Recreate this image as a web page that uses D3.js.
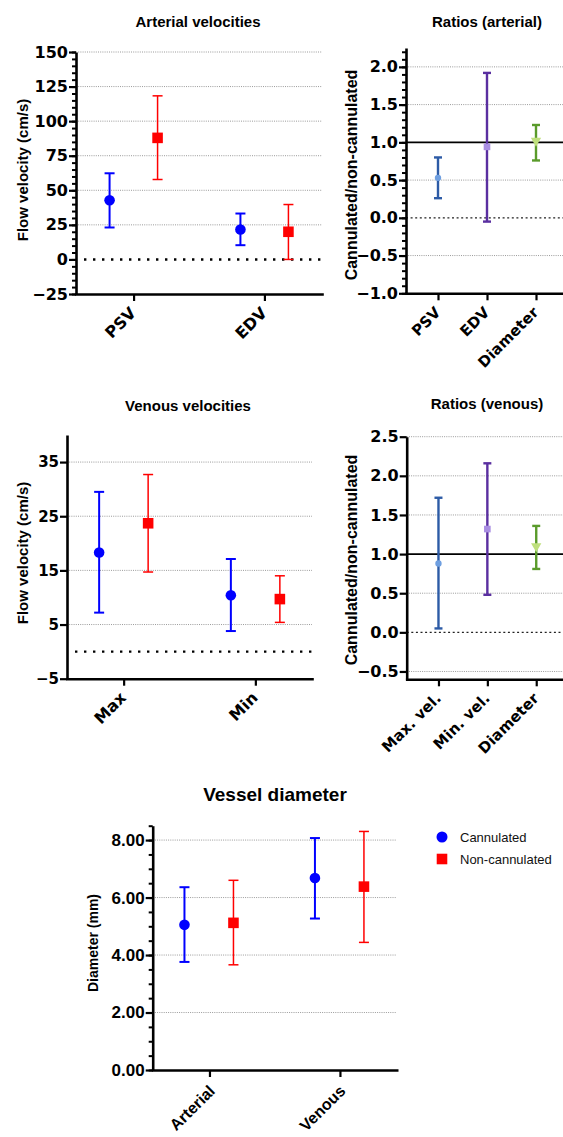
<!DOCTYPE html>
<html>
<head>
<meta charset="utf-8">
<script src="https://cdn.jsdelivr.net/npm/d3@7"></script>
<style>
body { margin: 0; background: #fff; }
svg { display: block; }
text { font-family: "Liberation Sans", Arial, sans-serif; }
</style>
</head>
<body>
<script>
// ---- data ----
var series = ["Cannulated", "Non-cannulated"];

var artCats = ["PSV", "EDV"];
var artCannMean = [42.8, 21.7], artCannLo = [23.1, 10.3], artCannHi = [62.3, 33.2];
var artNonMean = [87.9, 20.0], artNonLo = [57.8, 0.0], artNonHi = [118.3, 39.7];
var artTicks = [-25, 0, 25, 50, 75, 100, 125, 150];

var venCats = ["Max", "Min"];
var venCannMean = [18.3, 10.4], venCannLo = [7.2, 3.8], venCannHi = [29.5, 17.1];
var venNonMean = [23.7, 9.7], venNonLo = [14.7, 5.4], venNonHi = [32.7, 14.0];
var venTicks = [-5, 5, 15, 25, 35];

var ratArtCats = ["PSV", "EDV", "Diameter"];
var ratArtMean = [0.53, 0.94, 1.02], ratArtLo = [0.26, -0.05, 0.76], ratArtHi = [0.80, 1.92, 1.23];
var ratArtTicks = [-1.0, -0.5, 0.0, 0.5, 1.0, 1.5, 2.0];

var ratVenCats = ["Max. vel.", "Min. vel.", "Diameter"];
var ratVenMean = [0.88, 1.32, 1.10], ratVenLo = [0.05, 0.48, 0.81], ratVenHi = [1.72, 2.16, 1.36];
var ratVenTicks = [-0.5, 0.0, 0.5, 1.0, 1.5, 2.0, 2.5];

var diamCats = ["Arterial", "Venous"];
var diamCannMean = [5.05, 6.68], diamCannLo = [3.76, 5.27], diamCannHi = [6.36, 8.07];
var diamNonMean = [5.12, 6.38], diamNonLo = [3.66, 4.44], diamNonHi = [6.60, 8.30];
var diamTicks = [0, 2, 4, 6, 8];

var blue = "#0000ff", red = "#ff0000";
var ratBar = ["#2d5ba6", "#5a2fa0", "#5a9b2b"];
var ratMark = ["#6f9fe0", "#a98ee2", "#bfe07e"];

var svg = d3.select("body").append("svg")
  .attr("width", 563)
  .attr("height", 1137);
svg.append("rect").attr("width", 563).attr("height", 1137).attr("fill", "#fff");

function range(a, b, s) {
  var out = [];
  for (var v = a; v <= b + 1e-9; v += s) out.push(+v.toFixed(4));
  return out;
}

function panel(o) {
  var g = svg.append("g");
  var x = d3.scalePoint().domain(o.cats).range([o.left, o.right]).padding(o.pad);
  var y = d3.scaleLinear().domain(o.yDomain).range([o.bottom, o.top]);

  // grid lines
  g.selectAll(".grid")
    .data(o.grid)
    .enter()
    .append("line")
    .attr("x1", o.left).attr("x2", o.right)
    .attr("y1", function(d){ return y(d); })
    .attr("y2", function(d){ return y(d); })
    .attr("stroke", "#9a9a9a")
    .attr("stroke-width", 1)
    .attr("stroke-dasharray", "1,1.2");

  if (o.zero == "big") {
    g.append("line")
      .attr("x1", o.left + 8).attr("x2", o.right)
      .attr("y1", y(0)).attr("y2", y(0))
      .attr("stroke", "#000").attr("stroke-width", 2.4)
      .attr("stroke-dasharray", "2.4,6.6");
  } else if (o.zero == "small") {
    g.append("line")
      .attr("x1", o.left).attr("x2", o.right)
      .attr("y1", y(0)).attr("y2", y(0))
      .attr("stroke", "#222").attr("stroke-width", 1.3)
      .attr("stroke-dasharray", "2,2.6");
    g.append("line")
      .attr("x1", o.left).attr("x2", o.right)
      .attr("y1", y(1)).attr("y2", y(1))
      .attr("stroke", "#000").attr("stroke-width", 1.8);
  }

  // y axis: minor then major
  if (o.minor) {
    var ym = g.append("g")
      .attr("transform", "translate(" + o.left + ",0)")
      .call(d3.axisLeft(y).tickValues(o.minor).tickSize(4).tickSizeOuter(0).tickFormat(""));
    ym.select(".domain").remove();
    ym.selectAll("line").attr("stroke-width", 2);
  }
  var ya = g.append("g")
    .attr("transform", "translate(" + o.left + ",0)")
    .call(d3.axisLeft(y).tickValues(o.ticks).tickSize(7).tickSizeOuter(0).tickPadding(1).tickFormat(d3.format(o.fmt)));
  ya.select(".domain").attr("stroke-width", 2.6);
  ya.selectAll("line").attr("stroke-width", 2.2);
  ya.selectAll("text")
    .style("font-family", o.tickFamily)
    .style("font-weight", "bold")
    .style("font-size", o.tickSize + "px")
    .attr("fill", "#000");

  // x axis
  var xa = g.append("g")
    .attr("transform", "translate(0," + o.bottom + ")")
    .call(d3.axisBottom(x).tickSize(7).tickSizeOuter(0));
  xa.select(".domain").attr("stroke-width", 2.6).attr("stroke-linecap", "square");
  xa.selectAll("line").attr("stroke-width", 2.2);
  xa.selectAll("text")
    .attr("transform", "translate(" + o.xlDx + "," + o.xlDy + ") rotate(-45)")
    .attr("x", 0).attr("y", 0).attr("dy", 0)
    .style("text-anchor", "end")
    .style("font-family", o.xlFamily)
    .style("font-weight", "bold")
    .style("font-size", o.xlSize + "px")
    .attr("fill", "#000");

  // title + y label
  g.append("text")
    .attr("x", o.titleX).attr("y", o.titleY)
    .attr("text-anchor", "middle")
    .attr("font-weight", "bold")
    .attr("font-size", o.titleSize + "px")
    .text(o.title);
  g.append("text")
    .attr("transform", "translate(" + o.ylX + "," + o.ylY + ") rotate(-90)")
    .attr("text-anchor", "middle")
    .attr("font-weight", "bold")
    .attr("font-size", o.ylSize + "px")
    .text(o.ylabel);

  // error bars + markers
  o.series.forEach(function(s) {
    var sg = g.append("g");
    var rows = o.cats.map(function(c, i){
      return { c: c, m: s.mean[i], lo: s.lo[i], hi: s.hi[i], bar: s.bar[i], mark: s.mark[i], shape: s.shape[i] };
    });
    var px = function(d){ return x(d.c) + s.off; };
    sg.selectAll(".v").data(rows).enter().append("line")
      .attr("x1", px).attr("x2", px)
      .attr("y1", function(d){ return y(d.lo); })
      .attr("y2", function(d){ return y(d.hi); })
      .attr("stroke", function(d){ return d.bar; })
      .attr("stroke-width", s.lw);
    ["lo", "hi"].forEach(function(k){
      sg.selectAll(".c" + k).data(rows).enter().append("line")
        .attr("x1", function(d){ return px(d) - s.cap; })
        .attr("x2", function(d){ return px(d) + s.cap; })
        .attr("y1", function(d){ return y(d[k]); })
        .attr("y2", function(d){ return y(d[k]); })
        .attr("stroke", function(d){ return d.bar; })
        .attr("stroke-width", s.lw);
    });
    sg.selectAll(".m").data(rows).enter().append("path")
      .attr("transform", function(d){
        return "translate(" + px(d) + "," + y(d.m) + ")" + (d.shape == "tri" ? " rotate(180)" : "");
      })
      .attr("d", function(d){
        var t = d.shape == "circle" ? d3.symbolCircle : d.shape == "square" ? d3.symbolSquare : d3.symbolTriangle;
        return d3.symbol().type(t).size(s.size[d.shape])();
      })
      .attr("fill", function(d){ return d.mark; });
  });
}

var bigSize = { circle: 88, square: 112 };
var smallSize = { circle: 32, square: 44, tri: 46 };

function twoSeries(cm, clo, chi, nm, nlo, nhi, offA, offB) {
  return [
    { mean: cm, lo: clo, hi: chi, off: offA, lw: 2, cap: 5, size: bigSize,
      bar: [blue, blue], mark: [blue, blue], shape: ["circle", "circle"] },
    { mean: nm, lo: nlo, hi: nhi, off: offB, lw: 1.5, cap: 5, size: bigSize,
      bar: [red, red], mark: [red, red], shape: ["square", "square"] }
  ];
}
function ratioSeries(m, lo, hi) {
  return [{ mean: m, lo: lo, hi: hi, off: 0, lw: 2.4, cap: 4, size: smallSize,
    bar: ratBar, mark: ratMark, shape: ["circle", "square", "tri"] }];
}

// Arterial velocities
panel({
  cats: artCats, left: 76, right: 322, pad: 0.44, top: 52, bottom: 294,
  yDomain: [-25, 150], ticks: artTicks, minor: range(-25, 150, 5), fmt: "d",
  grid: [25, 50, 75, 100, 125, 150], zero: "big",
  tickFamily: "DejaVu Sans", tickSize: 16, xlFamily: "DejaVu Sans", xlSize: 16, xlDx: 3, xlDy: 20,
  title: "Arterial velocities", titleX: 198, titleY: 27, titleSize: 15,
  ylabel: "Flow velocity (cm/s)", ylX: 28, ylY: 170, ylSize: 15,
  series: twoSeries(artCannMean, artCannLo, artCannHi, artNonMean, artNonLo, artNonHi, -24, 24)
});

// Ratios (arterial)
panel({
  cats: ratArtCats, left: 406, right: 568, pad: 0.653, top: 48, bottom: 293.3,
  yDomain: [-1, 2.25], ticks: ratArtTicks, minor: range(-1, 2.2, 0.1), fmt: ".1f",
  grid: [-0.5, 0.5, 1.5, 2.0], zero: "small",
  tickFamily: "DejaVu Sans", tickSize: 16, xlFamily: "DejaVu Sans", xlSize: 15, xlDx: 3, xlDy: 20,
  title: "Ratios (arterial)", titleX: 487, titleY: 27, titleSize: 15,
  ylabel: "Cannulated/non-cannulated", ylX: 357, ylY: 175, ylSize: 16,
  series: ratioSeries(ratArtMean, ratArtLo, ratArtHi)
});

// Venous velocities
panel({
  cats: venCats, left: 67, right: 312, pad: 0.43, top: 435, bottom: 678.7,
  yDomain: [-5, 40], ticks: venTicks, minor: null, fmt: "d",
  grid: [5, 15, 25, 35], zero: "big",
  tickFamily: "DejaVu Sans", tickSize: 15, xlFamily: "DejaVu Sans", xlSize: 16, xlDx: 3, xlDy: 20,
  title: "Venous velocities", titleX: 188, titleY: 411, titleSize: 15,
  ylabel: "Flow velocity (cm/s)", ylX: 28, ylY: 553, ylSize: 15,
  series: twoSeries(venCannMean, venCannLo, venCannHi, venNonMean, venNonLo, venNonHi, -24.5, 24.5)
});

// Ratios (venous)
panel({
  cats: ratVenCats, left: 406.7, right: 568, pad: 0.65, top: 436.7, bottom: 679.3,
  yDomain: [-0.6, 2.5], ticks: ratVenTicks, minor: null, fmt: ".1f",
  grid: [-0.5, 0.5, 1.5, 2.0, 2.5], zero: "small",
  tickFamily: "DejaVu Sans", tickSize: 16, xlFamily: "DejaVu Sans", xlSize: 15, xlDx: 3, xlDy: 20,
  title: "Ratios (venous)", titleX: 487, titleY: 409, titleSize: 15,
  ylabel: "Cannulated/non-cannulated", ylX: 357, ylY: 560, ylSize: 16,
  series: ratioSeries(ratVenMean, ratVenLo, ratVenHi)
});

// Vessel diameter
panel({
  cats: diamCats, left: 152.7, right: 396.7, pad: 0.435, top: 825.7, bottom: 1070,
  yDomain: [0, 8.5], ticks: diamTicks, minor: range(0, 8.5, 0.5), fmt: ".2f",
  grid: [2, 4, 6, 8], zero: null,
  tickFamily: "Liberation Sans", tickSize: 17, xlFamily: "Liberation Sans", xlSize: 16, xlDx: 6, xlDy: 22,
  title: "Vessel diameter", titleX: 275, titleY: 801, titleSize: 19,
  ylabel: "Diameter (mm)", ylX: 98, ylY: 943, ylSize: 14,
  series: twoSeries(diamCannMean, diamCannLo, diamCannHi, diamNonMean, diamNonLo, diamNonHi, -25, 24)
});

// legend
var leg = svg.append("g").attr("transform", "translate(442,837)");
var legShape = [d3.symbolCircle, d3.symbolSquare];
var legColor = [blue, red];
leg.selectAll("path").data(series).enter().append("path")
  .attr("transform", function(d, i){ return "translate(0," + i * 22 + ")"; })
  .attr("d", function(d, i){ return d3.symbol().type(legShape[i]).size(i ? 112 : 95)(); })
  .attr("fill", function(d, i){ return legColor[i]; });
leg.selectAll("text").data(series).enter().append("text")
  .attr("x", 18)
  .attr("y", function(d, i){ return i * 22 + 4.5; })
  .attr("font-size", "13px")
  .attr("fill", "#111")
  .text(function(d){ return d; });
</script>
</body>
</html>
